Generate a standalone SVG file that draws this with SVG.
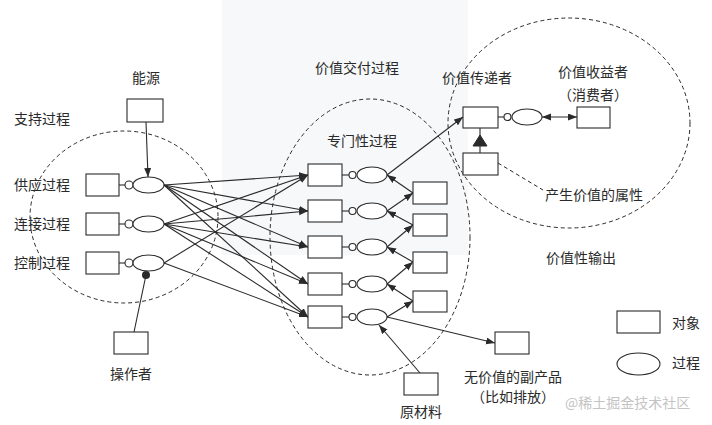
<svg xmlns="http://www.w3.org/2000/svg" width="712" height="425" viewBox="0 0 712 425">
<style>
text{font-family:"Noto Sans CJK SC","Noto Sans",sans-serif;font-size:14px;fill:#2a2a2a}
.m{text-anchor:middle}
.b{fill:#fff;stroke:#2a2a2a;stroke-width:1.1}
.l{fill:none;stroke:#2a2a2a;stroke-width:1.1}
.a{fill:none;stroke:#2a2a2a;stroke-width:1.1;marker-end:url(#ah)}
.d{fill:none;stroke:#2a2a2a;stroke-width:1;stroke-dasharray:4 3}
</style>
<defs>
<marker id="ah" markerUnits="userSpaceOnUse" markerWidth="10" markerHeight="8" refX="9" refY="3.5" orient="auto"><path d="M0,0 L9,3.5 L0,7 z" fill="#2a2a2a"/></marker>
<marker id="ah2" markerUnits="userSpaceOnUse" markerWidth="10" markerHeight="8" refX="9" refY="3.5" orient="auto-start-reverse"><path d="M0,0 L9,3.5 L0,7 z" fill="#2a2a2a"/></marker>
</defs>
<rect width="712" height="425" fill="#fff"/>
<rect x="222" y="0" width="246" height="255" fill="#f7f8fa"/>

<g id="regions">
<ellipse class="d" cx="124" cy="217" rx="94" ry="86"/>
<ellipse class="d" cx="370" cy="237" rx="100" ry="138"/>
<ellipse class="d" cx="569" cy="123" rx="121" ry="105"/>
</g>

<g id="connectors">
<line class="a" x1="146" y1="122" x2="148" y2="177"/>
<line class="l" x1="134" y1="332" x2="146" y2="275"/>
<line class="a" x1="164" y1="185" x2="308" y2="175"/>
<line class="a" x1="164" y1="185" x2="308" y2="211"/>
<line class="a" x1="164" y1="185" x2="308" y2="247"/>
<line class="a" x1="164" y1="185" x2="308" y2="284"/>
<line class="a" x1="164" y1="185" x2="308" y2="317"/>
<line class="a" x1="164" y1="224" x2="308" y2="175"/>
<line class="a" x1="164" y1="224" x2="308" y2="211"/>
<line class="a" x1="164" y1="224" x2="308" y2="247"/>
<line class="a" x1="164" y1="224" x2="308" y2="284"/>
<line class="a" x1="164" y1="224" x2="308" y2="317"/>
<line class="a" x1="164" y1="263" x2="308" y2="175"/>
<line class="a" x1="164" y1="263" x2="308" y2="317"/>
<line class="a" x1="387" y1="211" x2="413" y2="193"/>
<line class="a" x1="413" y1="193" x2="387" y2="175"/>
<line class="a" x1="387" y1="247" x2="413" y2="225"/>
<line class="a" x1="413" y1="225" x2="387" y2="211"/>
<line class="a" x1="387" y1="284" x2="413" y2="262"/>
<line class="a" x1="413" y1="262" x2="387" y2="247"/>
<line class="a" x1="387" y1="317" x2="413" y2="301"/>
<line class="a" x1="413" y1="301" x2="387" y2="284"/>
<line class="a" x1="387" y1="175" x2="463" y2="117"/>
<line class="a" x1="387" y1="317" x2="495" y2="343"/>
<line class="a" x1="420" y1="373" x2="379" y2="325"/>
<line class="l" x1="542" y1="117" x2="577" y2="117" marker-start="url(#ah2)" marker-end="url(#ah2)"/>
<line class="l" x1="480" y1="153" x2="480" y2="128"/>
<path d="M480,135 L487,146 L473,146 z" fill="#2a2a2a" stroke="#2a2a2a" stroke-width="1"/>
<line class="d" x1="498" y1="163" x2="543" y2="190"/>
</g>

<g id="energy"><rect class="b" x="127" y="99" width="36" height="23"/><text class="m" x="146" y="83">能源</text></g>
<text x="14" y="124">支持过程</text>

<g id="supply"><rect class="b" x="86" y="174" width="33" height="22"/><line class="l" x1="119" y1="185" x2="125" y2="185"/><circle class="b" cx="129" cy="185" r="4"/><ellipse class="b" cx="148.5" cy="185" rx="15.5" ry="8"/><text x="14" y="190">供应过程</text></g>
<g id="connect"><rect class="b" x="86" y="213" width="33" height="22"/><line class="l" x1="119" y1="224" x2="125" y2="224"/><circle class="b" cx="129" cy="224" r="4"/><ellipse class="b" cx="148.5" cy="224" rx="15.5" ry="8"/><text x="14" y="229">连接过程</text></g>
<g id="control"><rect class="b" x="86" y="252" width="33" height="22"/><line class="l" x1="119" y1="263" x2="125" y2="263"/><circle class="b" cx="129" cy="263" r="4"/><ellipse class="b" cx="148.5" cy="263" rx="15.5" ry="8"/><circle cx="146" cy="275" r="4" fill="#2a2a2a"/><text x="14" y="268">控制过程</text></g>
<g id="operator"><rect class="b" x="114" y="332" width="34" height="22"/><text class="m" x="131" y="379">操作者</text></g>

<g id="p1"><rect class="b" x="308" y="164" width="34" height="22"/><line class="l" x1="342" y1="175" x2="349" y2="175"/><circle class="b" cx="352.5" cy="175" r="3.5"/><ellipse class="b" cx="372" cy="175" rx="15" ry="8"/></g>
<g id="p2"><rect class="b" x="308" y="200" width="34" height="22"/><line class="l" x1="342" y1="211" x2="349" y2="211"/><circle class="b" cx="352.5" cy="211" r="3.5"/><ellipse class="b" cx="372" cy="211" rx="15" ry="8"/></g>
<g id="p3"><rect class="b" x="308" y="236" width="34" height="22"/><line class="l" x1="342" y1="247" x2="349" y2="247"/><circle class="b" cx="352.5" cy="247" r="3.5"/><ellipse class="b" cx="372" cy="247" rx="15" ry="8"/></g>
<g id="p4"><rect class="b" x="308" y="273" width="34" height="22"/><line class="l" x1="342" y1="284" x2="349" y2="284"/><circle class="b" cx="352.5" cy="284" r="3.5"/><ellipse class="b" cx="372" cy="284" rx="15" ry="8"/></g>
<g id="p5"><rect class="b" x="308" y="306" width="34" height="22"/><line class="l" x1="342" y1="317" x2="349" y2="317"/><circle class="b" cx="352.5" cy="317" r="3.5"/><ellipse class="b" cx="372" cy="317" rx="15" ry="8"/></g>
<g id="i1"><rect class="b" x="413" y="182" width="34" height="22"/></g>
<g id="i2"><rect class="b" x="413" y="214" width="34" height="22"/></g>
<g id="i3"><rect class="b" x="413" y="252" width="34" height="21"/></g>
<g id="i4"><rect class="b" x="413" y="291" width="34" height="21"/></g>
<text class="m" x="357" y="73">价值交付过程</text>
<text class="m" x="362" y="146">专门性过程</text>

<g id="raw"><rect class="b" x="404" y="373" width="34" height="22"/><text class="m" x="421" y="417">原材料</text></g>
<g id="byproduct"><rect class="b" x="495" y="332" width="34" height="22"/><text class="m" x="513" y="382">无价值的副产品</text><text class="m" x="513" y="402">（比如排放）</text></g>

<g id="deliverer"><rect class="b" x="463" y="107" width="35" height="21"/><line class="l" x1="498" y1="117" x2="504" y2="117"/><circle class="b" cx="507.5" cy="117" r="3.5"/><ellipse class="b" cx="527" cy="117" rx="15" ry="8"/><text class="m" x="477" y="83">价值传递者</text></g>
<g id="consumer"><rect class="b" x="577" y="107" width="33" height="21"/><text class="m" x="593" y="77">价值收益者</text><text class="m" x="593" y="100">（消费者）</text></g>
<g id="attribute"><rect class="b" x="463" y="153" width="35" height="22"/><text class="m" x="594" y="200">产生价值的属性</text></g>
<text class="m" x="581" y="263">价值性输出</text>

<g id="legend"><rect class="b" x="617" y="311" width="43" height="22"/><text x="672" y="328">对象</text><ellipse class="b" cx="638.5" cy="364" rx="21.5" ry="11"/><text x="672" y="368">过程</text></g>
<text x="565" y="408" style="fill:#c4c4c4">@稀土掘金技术社区</text>
</svg>
